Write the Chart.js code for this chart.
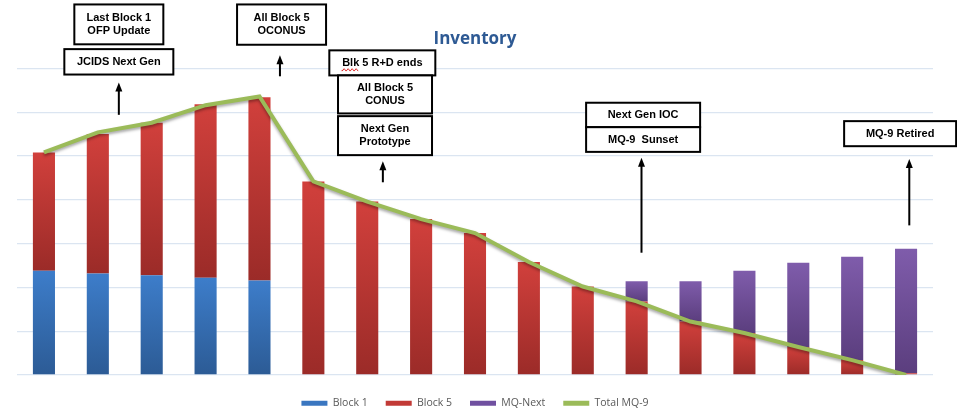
<!DOCTYPE html>
<html lang="en">
<head>
  <meta charset="UTF-8" />
  <title>Inventory</title>
  <script src="https://cdn.jsdelivr.net/npm/chart.js"></script>
  <style>
    html, body { margin: 0; padding: 0; background: #fff; }
    #wrap { width: 957px; height: 410px; }
  </style>
</head>
<body>
  <div id="wrap"><canvas id="inventoryChart"></canvas></div>

  <script>
    // periods along the x axis (not labelled in the original)
    const periods = ['P1', 'P2', 'P3', 'P4', 'P5', 'P6', 'P7', 'P8', 'P9',
                     'P10', 'P11', 'P12', 'P13', 'P14', 'P15', 'P16', 'P17'];

    const block1   = [119, 116, 114, 111, 108, 0, 0, 0, 0, 0, 0, 0, 0, 0, 0, 0, 0];
    const block5   = [135, 159, 174, 198, 209, 221, 198, 178, 162, 129, 101, 84, 61, 48, 32, 17, 2];
    const mqNext   = [0, 0, 0, 0, 0, 0, 0, 0, 0, 0, 0, 23, 46, 71, 96, 118, 142];
    const totalMq9 = [254, 277, 288, 308, 318, 221, 198, 178, 162, 129, 101, 84, 61, 48, 32, 17, 0];

    const yMax = 350;
    const yStep = 50;

    // callout boxes: x = category position, top/bottom = value units
    const callouts = [
      { lines: ['Last Block 1', 'OFP Update'], x: 1.39, top: 423, bottom: 377.5, width: 89 },
      { lines: ['JCIDS Next Gen'], x: 1.39, top: 372, bottom: 343, width: 109 },
      { lines: ['All Block 5', 'OCONUS'], x: 4.41, top: 423, bottom: 377, width: 89 },
      { lines: ['Blk 5 R+D ends'], x: 6.28, top: 370.6, bottom: 342, width: 106, squiggle: 'Blk' },
      { lines: ['All Block 5', 'CONUS'], x: 6.33, top: 342, bottom: 298.6, width: 94 },
      { lines: ['Next Gen', 'Prototype'], x: 6.33, top: 295.5, bottom: 251, width: 94 },
      { lines: ['Next Gen IOC'], x: 11.12, top: 310.8, bottom: 282.9, width: 114 },
      { lines: ['MQ-9  Sunset'], x: 11.12, top: 282.9, bottom: 254.7, width: 114 },
      { lines: ['MQ-9 Retired'], x: 15.89, top: 289.8, bottom: 261.2, width: 112 }
    ];
    const arrows = [
      { x: 1.39, from: 297, to: 334 },
      { x: 4.38, from: 341, to: 365 },
      { x: 6.29, from: 220, to: 244 },
      { x: 11.09, from: 139.6, to: 248 },
      { x: 16.06, from: 170.8, to: 246.7 }
    ];

    const colors = {
      block1: ['#3d7dca', '#2c5b95'],
      block5: ['#d1403c', '#9b2b28'],
      mqNext: ['#7f5cab', '#5b3e7e'],
      total: '#9bbb59'
    };
    const legendColors = ['#3a76c0', '#c23a36', '#7050a0', colors.total];

    // gradient per bar segment, from its own top to its own bottom
    function barGradient(stops, below) {
      return function (ctx) {
        const chart = ctx.chart;
        const y = chart.scales.y;
        if (ctx.type !== 'data' || !y || !chart.chartArea) return stops[1];
        const i = ctx.dataIndex;
        const base = below.reduce((s, arr) => s + arr[i], 0);
        const top = y.getPixelForValue(base + ctx.raw);
        const bottom = y.getPixelForValue(base);
        if (!isFinite(top) || !isFinite(bottom) || top === bottom) return stops[0];
        const g = chart.ctx.createLinearGradient(0, top, 0, bottom);
        g.addColorStop(0, stops[0]);
        g.addColorStop(1, stops[1]);
        return g;
      };
    }

    const lineShadow = {
      id: 'lineShadow',
      beforeDatasetDraw(chart, args) {
        if (args.meta.type !== 'line') return;
        const c = chart.ctx;
        c.save();
        c.shadowColor = 'rgba(0,0,0,0.35)';
        c.shadowBlur = 3;
        c.shadowOffsetY = 2;
      },
      afterDatasetDraw(chart, args) {
        if (args.meta.type === 'line') chart.ctx.restore();
      }
    };

    const calloutPlugin = {
      id: 'callouts',
      afterDraw(chart) {
        const c = chart.ctx;
        const xs = chart.scales.x;
        const ys = chart.scales.y;
        c.save();

        // arrows
        c.strokeStyle = '#000';
        c.fillStyle = '#000';
        c.lineWidth = 2;
        arrows.forEach(a => {
          const px = xs.getPixelForValue(a.x);
          const y0 = ys.getPixelForValue(a.from);
          const y1 = ys.getPixelForValue(a.to);
          c.beginPath();
          c.moveTo(px, y0);
          c.lineTo(px, y1 + 7);
          c.stroke();
          c.beginPath();
          c.moveTo(px, y1);
          c.lineTo(px - 3.5, y1 + 9);
          c.lineTo(px + 3.5, y1 + 9);
          c.closePath();
          c.fill();
        });

        // boxes
        c.font = 'bold 11px "Liberation Sans", Arial, sans-serif';
        c.textAlign = 'center';
        c.textBaseline = 'middle';
        callouts.forEach(b => {
          const cx = xs.getPixelForValue(b.x);
          const top = ys.getPixelForValue(b.top);
          const bottom = ys.getPixelForValue(b.bottom);
          const left = cx - b.width / 2;
          c.fillStyle = '#fff';
          c.fillRect(left, top, b.width, bottom - top);
          c.strokeStyle = '#000';
          c.lineWidth = 2;
          c.strokeRect(left, top, b.width, bottom - top);
          c.fillStyle = '#000';
          const mid = (top + bottom) / 2;
          const lh = 13;
          b.lines.forEach((t, k) => {
            const ty = mid + (k - (b.lines.length - 1) / 2) * lh;
            c.fillText(t, cx, ty);
            if (b.squiggle && k === 0) {
              const full = c.measureText(t).width;
              const w = c.measureText(b.squiggle).width;
              let sx = cx - full / 2;
              c.strokeStyle = '#e03030';
              c.lineWidth = 1;
              c.beginPath();
              c.moveTo(sx, ty + 7);
              for (let d = 0; d <= w; d += 2) {
                c.lineTo(sx + d, ty + 7 + ((d / 2) % 2 ? -1.2 : 1.2));
              }
              c.stroke();
            }
          });
        });
        c.restore();
      }
    };

    new Chart(document.getElementById('inventoryChart'), {
      type: 'bar',
      data: {
        labels: periods,
        datasets: [
          { label: 'Block 1', data: block1, stack: 'fleet',
            backgroundColor: barGradient(colors.block1, []),
            barPercentage: 0.41, categoryPercentage: 1 },
          { label: 'Block 5', data: block5, stack: 'fleet',
            backgroundColor: barGradient(colors.block5, [block1]),
            barPercentage: 0.41, categoryPercentage: 1 },
          { label: 'MQ-Next', data: mqNext, stack: 'fleet',
            backgroundColor: barGradient(colors.mqNext, [block1, block5]),
            barPercentage: 0.41, categoryPercentage: 1 },
          { type: 'line', label: 'Total MQ-9', data: totalMq9, stack: 'total', order: -1,
            borderColor: colors.total, backgroundColor: colors.total,
            borderWidth: 4, pointRadius: 0, tension: 0, fill: false }
        ]
      },
      options: {
        responsive: true,
        maintainAspectRatio: false,
        animation: false,
        layout: { padding: { left: 17, right: 24, top: 0, bottom: 0 } },
        scales: {
          x: {
            stacked: true,
            offset: true,
            grid: { display: false, drawTicks: true, tickLength: 5 },
            border: { display: false },
            ticks: { display: false }
          },
          y: {
            stacked: true,
            min: 0,
            max: yMax,
            ticks: { display: false, stepSize: yStep },
            grid: { color: '#dbe5f1', lineWidth: 1.3, drawTicks: false },
            border: { display: false }
          }
        },
        plugins: {
          title: {
            display: true,
            text: 'Inventory',
            color: '#2e5a94',
            font: { family: 'Open Sans', size: 17, weight: 'bold' },
            padding: { top: 29, bottom: 19 }
          },
          legend: {
            position: 'bottom',
            maxHeight: 30,
            labels: {
              boxWidth: 26,
              boxHeight: 5,
              padding: 18,
              color: '#595959',
              font: { family: 'Open Sans', size: 10.5 },
              sort: (a, b) => a.datasetIndex - b.datasetIndex,
              generateLabels: chart =>
                Chart.defaults.plugins.legend.labels.generateLabels(chart).map(item => ({
                  ...item,
                  fillStyle: legendColors[item.datasetIndex],
                  strokeStyle: legendColors[item.datasetIndex],
                  lineWidth: 0
                }))
            }
          },
          tooltip: { enabled: false }
        }
      },
      plugins: [lineShadow, calloutPlugin]
    });
  </script>
</body>
</html>
